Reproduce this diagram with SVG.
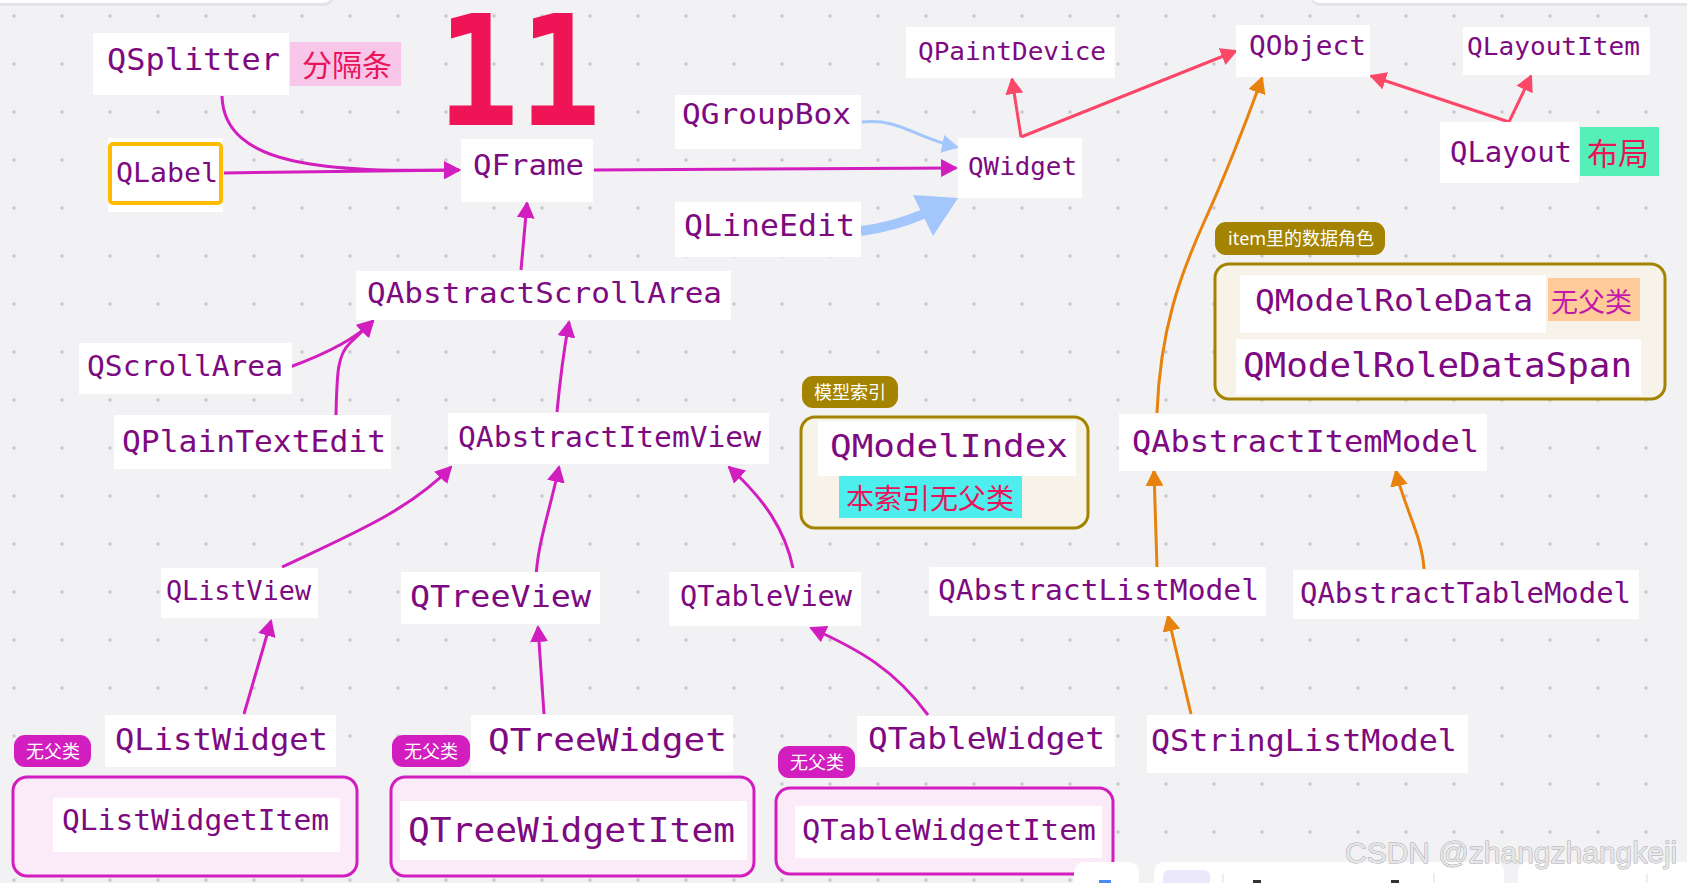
<svg xmlns="http://www.w3.org/2000/svg" width="1687" height="883" viewBox="0 0 1687 883">
<style>
.box{fill:#ffffff}
.t{font-family:"DejaVu Sans Mono",monospace;fill:#7d0a80}
.cjk{font-family:"Noto Sans CJK SC",sans-serif}
.pill{font-family:"Noto Sans","Noto Sans CJK SC",sans-serif;font-size:18px;fill:#ffffff}
.mg{stroke:#d21dbf;stroke-width:3;fill:none;marker-end:url(#am)}
.rd{stroke:#fd4766;stroke-width:3;fill:none;marker-end:url(#ar)}
.or{stroke:#e8820e;stroke-width:3;fill:none;marker-end:url(#ao)}
.bl{stroke:#a3c6fb;fill:none}
.grpM{fill:#fbeaf8;stroke:#d21dbf;stroke-width:3}
.grpO{fill:#f7f3e8;stroke:#a38300;stroke-width:3}
.chrome{fill:#ffffff}
</style>
<defs>
<pattern id="dots" x="0" y="0" width="48" height="48" patternUnits="userSpaceOnUse">
<rect x="12.5" y="14.5" width="3" height="3" fill="#c6c6cb"/>
</pattern>
<marker id="am" markerUnits="userSpaceOnUse" markerWidth="17" markerHeight="18" viewBox="0 0 17 18" refX="15" refY="9" orient="auto"><path d="M0,0 L17,9 L0,18 z" fill="#d21dbf"/></marker>
<marker id="ar" markerUnits="userSpaceOnUse" markerWidth="17" markerHeight="18" viewBox="0 0 17 18" refX="15" refY="9" orient="auto"><path d="M0,0 L17,9 L0,18 z" fill="#fd4766"/></marker>
<marker id="ao" markerUnits="userSpaceOnUse" markerWidth="17" markerHeight="18" viewBox="0 0 17 18" refX="15" refY="9" orient="auto"><path d="M0,0 L17,9 L0,18 z" fill="#e8820e"/></marker>
<marker id="ab" markerUnits="userSpaceOnUse" markerWidth="17" markerHeight="18" viewBox="0 0 17 18" refX="15" refY="9" orient="auto"><path d="M0,0 L17,9 L0,18 z" fill="#a3c6fb"/></marker>
</defs>

<rect x="0" y="0" width="1687" height="883" fill="#f2f2f5"/>
<rect x="0" y="0" width="1687" height="883" fill="url(#dots)"/>

<!-- top chrome -->
<g id="chrome-top">
<rect x="-20" y="-28" width="354" height="34" rx="10" fill="#e3e3e8"/>
<rect x="-20" y="-30" width="353" height="33" rx="10" class="chrome"/>
<rect x="1310" y="-28" width="400" height="34" rx="10" fill="#e3e3e8"/>
<rect x="1310" y="-30" width="400" height="33" rx="10" class="chrome"/>
</g>

<!-- big number -->
<text id="big11" x="437" y="125" font-family="DejaVu Sans Mono,monospace" font-weight="bold" font-size="154" fill="#ee1456" textLength="164" lengthAdjust="spacingAndGlyphs">11</text>

<!-- connectors -->
<g id="connectors">
<path class="mg" d="M222,96 C224,168 330,172 459,170"/>
<path class="mg" d="M224,173 L459,170"/>
<path class="mg" d="M594,170 L956,168"/>
<path class="mg" d="M521,270 L527,203"/>
<path class="mg" d="M290,367 Q350,345 373,321"/>
<path class="mg" d="M336,415 C337,375 337,355 350,343 L373,321"/>
<path class="mg" d="M557,412 C560,380 563,355 569,322"/>
<path class="mg" d="M282,567 C350,535 410,510 451,467"/>
<path class="mg" d="M536,579 C537,545 550,510 559,467"/>
<path class="mg" d="M793,568 C785,530 765,500 729,467"/>
<path class="mg" d="M244,714 L271,621"/>
<path class="mg" d="M544,714 L538,627"/>
<path class="mg" d="M928,715 C895,670 860,650 811,628"/>

<path class="bl" stroke-width="3" marker-end="url(#ab)" d="M862,122 C900,118 915,138 957,147"/>
<path class="bl" stroke-width="10" d="M861,231 C885,228 905,222 926,213"/>
<polygon points="958,198 913,195 933,236" fill="#a3c6fb"/>

<path class="rd" d="M1021,137 L1012,79"/>
<path class="rd" d="M1021,137 L1236,51"/>
<path class="rd" d="M1509,122 L1371,76"/>
<path class="rd" d="M1509,122 L1531,76"/>

<path class="or" d="M1157,413 C1160,330 1180,275 1205,220 S1245,125 1262,78"/>
<path class="or" d="M1157,567 L1154,471"/>
<path class="or" d="M1424,569 C1422,535 1403,505 1396,471"/>
<path class="or" d="M1191,714 L1168,616"/>
</g>

<!-- nodes -->
<g id="n-QSplitter">
<rect class="box" x="93" y="33" width="196" height="62"/>
<text class="t" x="107" y="70" font-size="31" textLength="173" lengthAdjust="spacingAndGlyphs">QSplitter</text>
<rect x="290" y="42" width="111" height="44" fill="#f8c6e8"/>
<text class="cjk" x="302" y="76" font-size="30" fill="#e8155a">分隔条</text>
</g>

<g id="n-QLabel">
<rect class="box" x="108" y="138" width="115" height="74"/>
<rect x="110" y="144" width="111" height="59" rx="3" fill="#ffffff" stroke="#ffbb00" stroke-width="4"/>
<text class="t" x="116" y="182" font-size="27" textLength="102" lengthAdjust="spacingAndGlyphs">QLabel</text>
</g>

<g id="n-QFrame">
<rect class="box" x="461" y="139" width="132" height="63"/>
<text class="t" x="473" y="175" font-size="29" textLength="111" lengthAdjust="spacingAndGlyphs">QFrame</text>
</g>

<g id="n-QGroupBox">
<rect class="box" x="675" y="95" width="186" height="54"/>
<text class="t" x="682" y="124" font-size="29" textLength="169" lengthAdjust="spacingAndGlyphs">QGroupBox</text>
</g>

<g id="n-QLineEdit">
<rect class="box" x="675" y="202" width="186" height="55"/>
<text class="t" x="684" y="236" font-size="30" textLength="171" lengthAdjust="spacingAndGlyphs">QLineEdit</text>
</g>

<g id="n-QWidget">
<rect class="box" x="958" y="138" width="124" height="60"/>
<text class="t" x="968" y="175" font-size="25" textLength="109" lengthAdjust="spacingAndGlyphs">QWidget</text>
</g>

<g id="n-QPaintDevice">
<rect class="box" x="906" y="27" width="209" height="51"/>
<text class="t" x="918" y="60" font-size="25" textLength="188" lengthAdjust="spacingAndGlyphs">QPaintDevice</text>
</g>

<g id="n-QObject">
<rect class="box" x="1236" y="25" width="134" height="52"/>
<text class="t" x="1249" y="55" font-size="26" textLength="117" lengthAdjust="spacingAndGlyphs">QObject</text>
</g>

<g id="n-QLayoutItem">
<rect class="box" x="1463" y="27" width="187" height="48"/>
<text class="t" x="1467" y="55" font-size="25" textLength="173" lengthAdjust="spacingAndGlyphs">QLayoutItem</text>
</g>

<g id="n-QLayout">
<rect class="box" x="1440" y="122" width="139" height="61"/>
<text class="t" x="1450" y="162" font-size="28" textLength="122" lengthAdjust="spacingAndGlyphs">QLayout</text>
<rect x="1580" y="127" width="79" height="49" fill="#55f0b9"/>
<text class="cjk" x="1587" y="165" font-size="31" fill="#e8155a">布局</text>
</g>

<g id="g-ModelRole">
<rect x="1215" y="222" width="170" height="33" rx="11" fill="#a38300"/>
<text class="pill" x="1228" y="245">item里的数据角色</text>
<rect class="grpO" x="1215" y="264" width="450" height="135" rx="14"/>
<rect class="box" x="1240" y="275" width="306" height="58"/>
<text class="t" x="1255" y="311" font-size="31" textLength="278" lengthAdjust="spacingAndGlyphs">QModelRoleData</text>
<rect x="1548" y="278" width="92" height="43" fill="#ffcc99"/>
<text class="cjk" x="1551" y="312" font-size="27" fill="#c318ab">无父类</text>
<rect class="box" x="1236" y="339" width="405" height="56"/>
<text class="t" x="1243" y="377" font-size="33" textLength="389" lengthAdjust="spacingAndGlyphs">QModelRoleDataSpan</text>
</g>

<g id="n-QAbstractItemModel">
<rect class="box" x="1119" y="414" width="368" height="57"/>
<text class="t" x="1132" y="452" font-size="30" textLength="347" lengthAdjust="spacingAndGlyphs">QAbstractItemModel</text>
</g>

<g id="g-ModelIndex">
<rect x="802" y="376" width="96" height="32" rx="11" fill="#a38300"/>
<text class="pill" x="814" y="399">模型索引</text>
<rect class="grpO" x="801" y="417" width="287" height="111" rx="14"/>
<rect class="box" x="818" y="421" width="258" height="55"/>
<text class="t" x="830" y="457" font-size="32" textLength="238" lengthAdjust="spacingAndGlyphs">QModelIndex</text>
<rect x="839" y="476" width="183" height="42" fill="#4deeed"/>
<text class="cjk" x="846" y="509" font-size="28" fill="#e8155a">本索引无父类</text>
</g>

<g id="n-QAbstractScrollArea">
<rect class="box" x="356" y="271" width="375" height="49"/>
<text class="t" x="367" y="303" font-size="29" textLength="355" lengthAdjust="spacingAndGlyphs">QAbstractScrollArea</text>
</g>

<g id="n-QScrollArea">
<rect class="box" x="79" y="343" width="213" height="51"/>
<text class="t" x="87" y="376" font-size="28" textLength="196" lengthAdjust="spacingAndGlyphs">QScrollArea</text>
</g>

<g id="n-QPlainTextEdit">
<rect class="box" x="114" y="415" width="277" height="54"/>
<text class="t" x="122" y="452" font-size="30" textLength="264" lengthAdjust="spacingAndGlyphs">QPlainTextEdit</text>
</g>

<g id="n-QAbstractItemView">
<rect class="box" x="448" y="413" width="321" height="51"/>
<text class="t" x="458" y="447" font-size="28" textLength="303" lengthAdjust="spacingAndGlyphs">QAbstractItemView</text>
</g>

<g id="n-QListView">
<rect class="box" x="161" y="568" width="157" height="50"/>
<text class="t" x="166" y="600" font-size="26" textLength="145" lengthAdjust="spacingAndGlyphs">QListView</text>
</g>

<g id="n-QTreeView">
<rect class="box" x="401" y="572" width="199" height="52"/>
<text class="t" x="410" y="607" font-size="31" textLength="181" lengthAdjust="spacingAndGlyphs">QTreeView</text>
</g>

<g id="n-QTableView">
<rect class="box" x="669" y="572" width="192" height="54"/>
<text class="t" x="680" y="606" font-size="28" textLength="172" lengthAdjust="spacingAndGlyphs">QTableView</text>
</g>

<g id="n-QAbstractListModel">
<rect class="box" x="929" y="567" width="337" height="49"/>
<text class="t" x="938" y="600" font-size="29" textLength="321" lengthAdjust="spacingAndGlyphs">QAbstractListModel</text>
</g>

<g id="n-QAbstractTableModel">
<rect class="box" x="1293" y="570" width="346" height="49"/>
<text class="t" x="1300" y="603" font-size="28.5" textLength="331" lengthAdjust="spacingAndGlyphs">QAbstractTableModel</text>
</g>

<g id="n-QStringListModel">
<rect class="box" x="1147" y="715" width="321" height="58"/>
<text class="t" x="1151" y="751" font-size="31" textLength="306" lengthAdjust="spacingAndGlyphs">QStringListModel</text>
</g>

<g id="n-QListWidget">
<rect class="box" x="105" y="715" width="231" height="52"/>
<text class="t" x="115" y="750" font-size="31" textLength="213" lengthAdjust="spacingAndGlyphs">QListWidget</text>
</g>

<g id="g-QListWidgetItem">
<rect x="14" y="735" width="77" height="32" rx="11" fill="#d21dbf"/>
<text class="pill" x="26" y="758">无父类</text>
<rect class="grpM" x="13" y="777" width="344" height="99" rx="14"/>
<rect class="box" x="53" y="798" width="287" height="54"/>
<text class="t" x="62" y="830" font-size="29" textLength="267" lengthAdjust="spacingAndGlyphs">QListWidgetItem</text>
</g>

<g id="n-QTreeWidget">
<rect class="box" x="471" y="715" width="262" height="57"/>
<text class="t" x="488" y="751" font-size="32" textLength="239" lengthAdjust="spacingAndGlyphs">QTreeWidget</text>
</g>

<g id="g-QTreeWidgetItem">
<rect x="392" y="735" width="78" height="32" rx="11" fill="#d21dbf"/>
<text class="pill" x="404" y="758">无父类</text>
<rect class="grpM" x="391" y="777" width="363" height="99" rx="14"/>
<rect class="box" x="400" y="801" width="347" height="59"/>
<text class="t" x="408" y="842" font-size="33" textLength="327" lengthAdjust="spacingAndGlyphs">QTreeWidgetItem</text>
</g>

<g id="n-QTableWidget">
<rect class="box" x="857" y="716" width="258" height="51"/>
<text class="t" x="868" y="749" font-size="31" textLength="237" lengthAdjust="spacingAndGlyphs">QTableWidget</text>
</g>

<g id="g-QTableWidgetItem">
<rect x="778" y="746" width="77" height="32" rx="11" fill="#d21dbf"/>
<text class="pill" x="790" y="769">无父类</text>
<rect class="grpM" x="776" y="788" width="337" height="86" rx="14"/>
<rect class="box" x="795" y="806" width="307" height="52"/>
<text class="t" x="802" y="840" font-size="29" textLength="294" lengthAdjust="spacingAndGlyphs">QTableWidgetItem</text>
</g>

<!-- bottom chrome -->
<g id="chrome-bottom">
<rect x="1074" y="862" width="65" height="40" rx="10" class="chrome"/>
<rect x="1099" y="880" width="12" height="3" fill="#4a8af4"/>
<rect x="1154" y="862" width="350" height="40" rx="10" class="chrome"/>
<rect x="1163" y="870" width="47" height="30" rx="6" fill="#ece8fb"/>
<line x1="1223" y1="873" x2="1223" y2="883" stroke="#dddde2" stroke-width="1"/>
<line x1="1434" y1="873" x2="1434" y2="883" stroke="#dddde2" stroke-width="1"/>
<rect x="1253" y="880" width="8" height="3" fill="#333"/>
<rect x="1391" y="880" width="8" height="3" fill="#333"/>
<rect x="1518" y="862" width="200" height="40" rx="10" class="chrome"/>
<line x1="1647" y1="873" x2="1647" y2="883" stroke="#dddde2" stroke-width="1"/>
</g>

<text id="watermark" x="1345" y="863" font-family="Liberation Sans,Arial,sans-serif" font-size="30" fill="#e6e6e8" stroke="#aaaaaf" stroke-width="1" paint-order="stroke">CSDN @zhangzhangkeji</text>
</svg>
